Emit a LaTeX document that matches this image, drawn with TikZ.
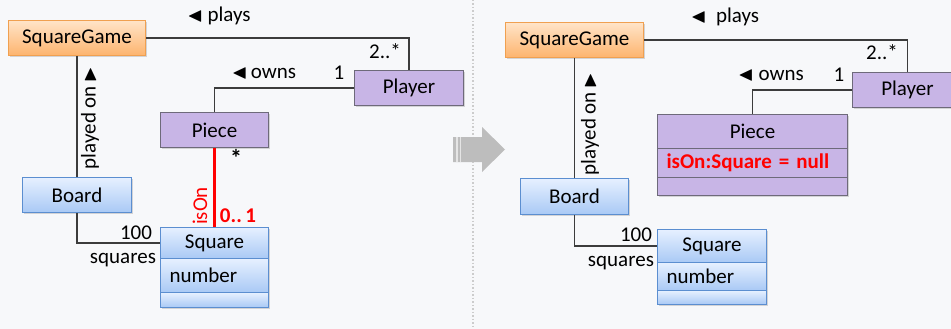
\documentclass[tikz,border=0pt]{standalone}
\usepackage{fontspec}
\setmainfont{Carlito}
\usepackage{amssymb}
\usetikzlibrary{shadows}

\definecolor{bgcol}{HTML}{F7F8FA}
\definecolor{orangetop}{HTML}{FFE4C8}
\definecolor{orangebot}{HTML}{FDB46E}
\definecolor{orangeline}{HTML}{F0A050}
\definecolor{bluetop}{HTML}{E6F0FF}
\definecolor{bluebot}{HTML}{A9C9F5}
\definecolor{blueline}{HTML}{5B8ED0}
\definecolor{purplefill}{HTML}{C8B5E6}
\definecolor{purpleline}{HTML}{6E6A7A}
\definecolor{linecol}{HTML}{3C3C3C}
\definecolor{umlred}{HTML}{FF0000}
\definecolor{arrowgray}{HTML}{BDBDBD}

\newcommand{\tril}{{\fontsize{20}{22}\selectfont$\blacktriangleleft$}}
\newcommand{\trir}{{\fontsize{20}{22}\selectfont$\blacktriangleright$}}

\begin{document}
\begin{tikzpicture}[x=1pt,y=-1pt]
                \tikzset{cls/.style = {shape=rectangle,draw,inner sep=0pt,anchor=north west,minimum height=35pt,font=\fontsize{21}{25}\selectfont,line width=1pt,drop shadow={shadow xshift=1.2pt,shadow yshift=-1.5pt,opacity=0.3}}}
                \tikzset{gamecls/.style = {cls,draw=orangeline,top color=orangetop,bottom color=orangebot}}
                \tikzset{bluecls/.style = {cls,draw=blueline,top color=bluetop,bottom color=bluebot}}
                \tikzset{purplecls/.style = {cls,draw=purpleline,fill=purplefill}}
                \tikzset{attr/.style = {align=left,inner xsep=9pt}}
                \tikzset{assoc/.style = {draw=linecol,line width=1.2pt}}
                \tikzset{ison/.style = {draw=umlred,line width=2.6pt}}
                \tikzset{lbl/.style = {inner sep=0pt,font=\fontsize{21}{25}\selectfont}}

                \fill[bgcol] (0,0) rectangle (951,329);
                \clip (0,0) rectangle (951,329);
                \draw[gray!40,line width=1.5pt,dotted] (473,0) -- (473,329);
                \fill[arrowgray] (453,137) -- (482,137) -- (482,127) -- (505,149.5) -- (482,172) -- (482,162) -- (453,162) -- cycle;
                \fill[gray!20] (456,137) rectangle (457.5,162);
                \fill[gray!20] (460,137) rectangle (461,162);

                \node[gamecls,minimum width=137pt] (gameL) at (8,20) {SquareGame};
                \node[purplecls,minimum width=109pt] (playerL) at (354,70) {Player};
                \node[purplecls,minimum width=108pt] (pieceL) at (160,112) {Piece};
                \node[bluecls,minimum width=109pt] (boardL) at (22,177) {Board};
                \node[bluecls,minimum width=108pt,minimum height=31pt] (sqL) at (160,227) {Square};
                \node[bluecls,attr,text width=90pt,minimum height=34pt] (sqLattr) at (160,258) {number};
                \node[bluecls,minimum width=108pt,minimum height=15pt] (sqLops) at (160,292) {};

                \draw[assoc] (gameL.east) -| (playerL.north);
                \draw[assoc] (playerL.west) -| (pieceL.north);
                \draw[assoc] (gameL.south) -- (boardL.north);
                \draw[assoc] (boardL.south) |- (sqL.west);
                \draw[ison] (pieceL.south) -- (sqL.north);

                \node[lbl] (playsL) at (219,16) {\tril\ plays};
                \node[lbl] (manyL) at (385,51) {2..*};
                \node[lbl] (ownsL) at (264,73) {\tril\,owns};
                \node[lbl] (oneL) at (339,73) {1};
                \node[lbl,rotate=90] (playedL) at (90,118) {played on\,\trir};
                \node[lbl] (hundredL) at (136,233) {100};
                \node[lbl] (squaresL) at (123,260) {squares};
                \node[lbl,font=\fontsize{24}{25}\selectfont\bfseries] (starL) at (236,158) {*};
                \node[lbl,rotate=90,text=umlred] (isOnL) at (200,206) {isOn};
                \node[lbl,text=umlred,font=\fontsize{21}{25}\selectfont\bfseries] (multL) at (238,216) {0..\,1};

                \node[gamecls,minimum width=138pt] (gameR) at (505,22) {SquareGame};
                \node[purplecls,minimum width=110pt] (playerR) at (852,72) {Player};
                \node[purplecls,minimum width=190pt,minimum height=34pt] (pieceR) at (657,114) {Piece};
                \node[purplecls,attr,text width=172pt,minimum height=29pt,text=umlred,font=\fontsize{21}{25}\selectfont\bfseries] (pieceRattr) at (657,148) {isOn:Square = null};
                \node[purplecls,minimum width=190pt,minimum height=18pt] (pieceRops) at (657,177) {};
                \node[bluecls,minimum width=108pt,minimum height=36pt] (boardR) at (520,178) {Board};
                \node[bluecls,minimum width=109pt,minimum height=33pt] (sqR) at (657,229) {Square};
                \node[bluecls,attr,text width=91pt,minimum height=28pt] (sqRattr) at (657,262) {number};
                \node[bluecls,minimum width=109pt,minimum height=14pt] (sqRops) at (657,290) {};

                \draw[assoc] (gameR.east) -| (playerR.north);
                \draw[assoc] (playerR.west) -| (pieceR.north);
                \draw[assoc] (gameR.south) -- (boardR.north);
                \draw[assoc] (boardR.south) |- (sqR.west);

                \node[lbl] (playsR) at (725,17) {\tril\ \ plays};
                \node[lbl] (manyR) at (882,52) {2..*};
                \node[lbl] (ownsR) at (771,75) {\tril\ owns};
                \node[lbl] (oneR) at (839,75) {1};
                \node[lbl,rotate=90] (playedR) at (590,124) {played on\,\trir};
                \node[lbl] (hundredR) at (636,235) {100};
                \node[lbl] (squaresR) at (621,263) {squares};
\end{tikzpicture}
\end{document}
